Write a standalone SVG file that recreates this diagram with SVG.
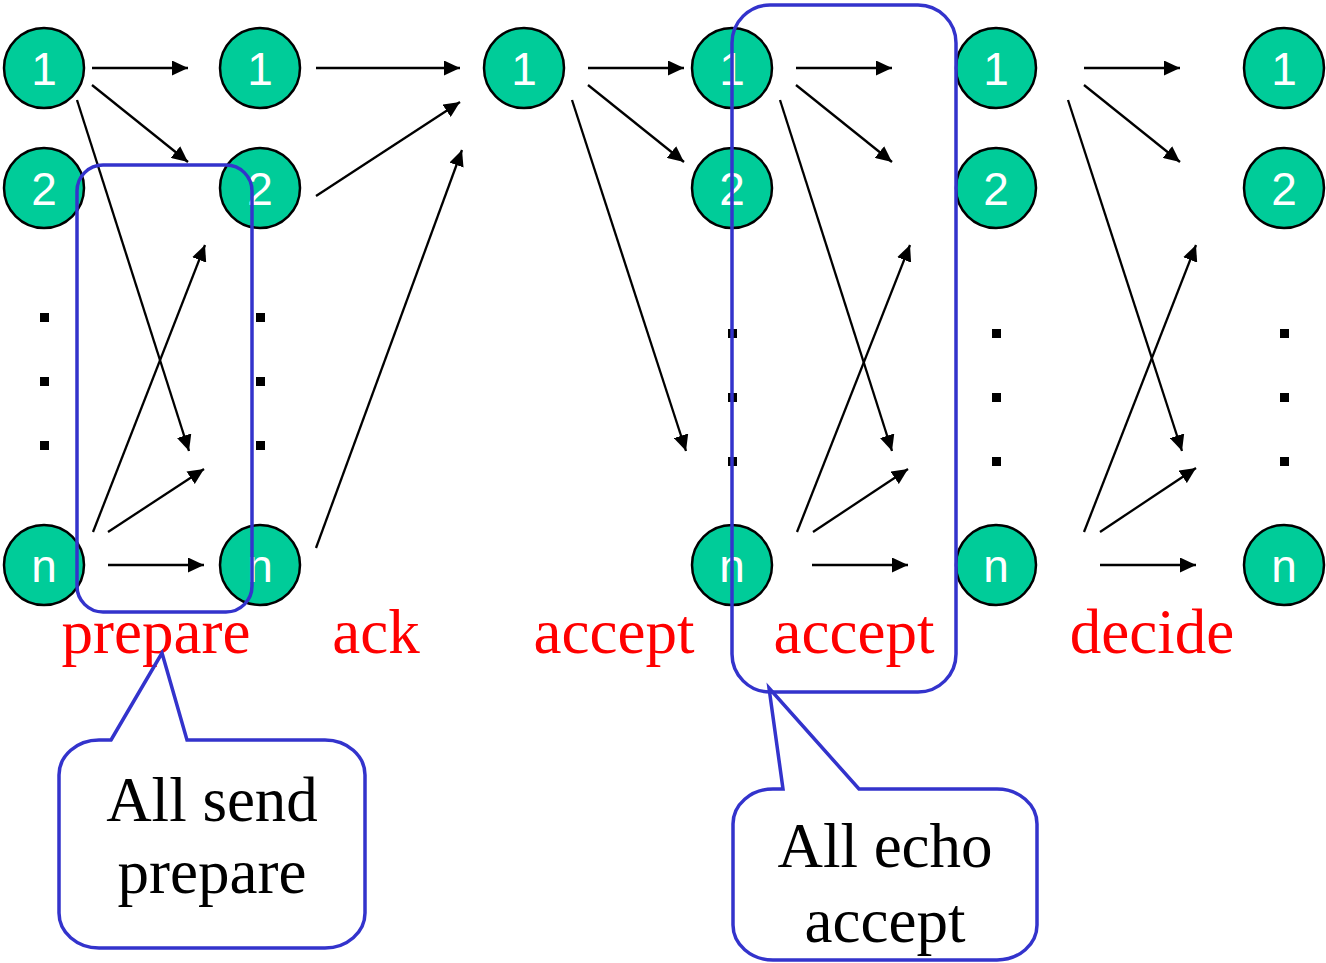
<svg xmlns="http://www.w3.org/2000/svg" width="1326" height="963" viewBox="0 0 1326 963">
  <style>
    .node circle { fill: #00CC99; stroke: #000; stroke-width: 2.5; }
    .node text { font-family: "Liberation Sans", Arial, sans-serif; font-size: 46px; fill: #fff; text-anchor: middle; }
    .dot { fill: #000; }
    .edge { stroke: #000; stroke-width: 2.3; fill: none; marker-end: url(#head); }
    .phase { font-family: "Liberation Serif", "Times New Roman", serif; font-size: 63px; fill: #FF0000; text-anchor: middle; }
    .group { fill: none; stroke: #3333CC; stroke-width: 3.5; }
    .note { font-family: "Liberation Serif", "Times New Roman", serif; font-size: 63px; fill: #000; text-anchor: middle; }
  </style>
  <defs>
    <marker id="head" viewBox="0 0 16 15" refX="16" refY="7.5" markerWidth="16" markerHeight="15" markerUnits="userSpaceOnUse" orient="auto">
      <path d="M0,0 L16,7.5 L0,15 Z" fill="#000"/>
    </marker>
  </defs>

  <rect width="1326" height="963" fill="#fff"/>

  <!-- column 1 -->
  <g id="c1-1" class="node"><circle cx="44" cy="68" r="40"/><text x="44" y="85">1</text></g>
  <g id="c1-2" class="node"><circle cx="44" cy="188" r="40"/><text x="44" y="205">2</text></g>
  <g id="c1-n" class="node"><circle cx="44" cy="565" r="40"/><text x="44" y="582">n</text></g>
  <!-- column 2 -->
  <g id="c2-1" class="node"><circle cx="260" cy="68" r="40"/><text x="260" y="85">1</text></g>
  <g id="c2-2" class="node"><circle cx="260" cy="188" r="40"/><text x="260" y="205">2</text></g>
  <g id="c2-n" class="node"><circle cx="260" cy="565" r="40"/><text x="260" y="582">n</text></g>
  <!-- column 3 (leader) -->
  <g id="c3-1" class="node"><circle cx="524" cy="68" r="40"/><text x="524" y="85">1</text></g>
  <!-- column 4 -->
  <g id="c4-1" class="node"><circle cx="732" cy="68" r="40"/><text x="732" y="85">1</text></g>
  <g id="c4-2" class="node"><circle cx="732" cy="188" r="40"/><text x="732" y="205">2</text></g>
  <g id="c4-n" class="node"><circle cx="732" cy="565" r="40"/><text x="732" y="582">n</text></g>
  <!-- column 5 -->
  <g id="c5-1" class="node"><circle cx="996" cy="68" r="40"/><text x="996" y="85">1</text></g>
  <g id="c5-2" class="node"><circle cx="996" cy="188" r="40"/><text x="996" y="205">2</text></g>
  <g id="c5-n" class="node"><circle cx="996" cy="565" r="40"/><text x="996" y="582">n</text></g>
  <!-- column 6 -->
  <g id="c6-1" class="node"><circle cx="1284" cy="68" r="40"/><text x="1284" y="85">1</text></g>
  <g id="c6-2" class="node"><circle cx="1284" cy="188" r="40"/><text x="1284" y="205">2</text></g>
  <g id="c6-n" class="node"><circle cx="1284" cy="565" r="40"/><text x="1284" y="582">n</text></g>

  <!-- ellipsis dots -->
  <g id="dots">
    <rect class="dot" x="40" y="313" width="9" height="9"/>
    <rect class="dot" x="40" y="377" width="9" height="9"/>
    <rect class="dot" x="40" y="441" width="9" height="9"/>
    <rect class="dot" x="256" y="313" width="9" height="9"/>
    <rect class="dot" x="256" y="377" width="9" height="9"/>
    <rect class="dot" x="256" y="441" width="9" height="9"/>
    <rect class="dot" x="728" y="329" width="9" height="9"/>
    <rect class="dot" x="728" y="393" width="9" height="9"/>
    <rect class="dot" x="728" y="457" width="9" height="9"/>
    <rect class="dot" x="992" y="329" width="9" height="9"/>
    <rect class="dot" x="992" y="393" width="9" height="9"/>
    <rect class="dot" x="992" y="457" width="9" height="9"/>
    <rect class="dot" x="1280" y="329" width="9" height="9"/>
    <rect class="dot" x="1280" y="393" width="9" height="9"/>
    <rect class="dot" x="1280" y="457" width="9" height="9"/>
  </g>

  <!-- message connectors -->
  <g id="connectors">
    <!-- prepare -->
    <line class="edge" x1="92" y1="68" x2="188" y2="68"/>
    <line class="edge" x1="92" y1="85" x2="188" y2="162"/>
    <line class="edge" x1="77" y1="100" x2="189" y2="451"/>
    <line class="edge" x1="93" y1="532" x2="205" y2="245"/>
    <line class="edge" x1="108" y1="532" x2="204" y2="469"/>
    <line class="edge" x1="108" y1="565" x2="204" y2="565"/>
    <!-- ack -->
    <line class="edge" x1="316" y1="68" x2="460" y2="68"/>
    <line class="edge" x1="316" y1="196" x2="460" y2="102"/>
    <line class="edge" x1="316" y1="548" x2="462" y2="150"/>
    <!-- accept -->
    <line class="edge" x1="588" y1="68" x2="684" y2="68"/>
    <line class="edge" x1="588" y1="85" x2="684" y2="162"/>
    <line class="edge" x1="572" y1="100" x2="686" y2="451"/>
    <!-- echo accept -->
    <line class="edge" x1="796" y1="68" x2="892" y2="68"/>
    <line class="edge" x1="796" y1="85" x2="892" y2="162"/>
    <line class="edge" x1="780" y1="100" x2="892" y2="451"/>
    <line class="edge" x1="797" y1="532" x2="910" y2="245"/>
    <line class="edge" x1="813" y1="532" x2="908" y2="469"/>
    <line class="edge" x1="812" y1="565" x2="908" y2="565"/>
    <!-- decide -->
    <line class="edge" x1="1084" y1="68" x2="1180" y2="68"/>
    <line class="edge" x1="1084" y1="85" x2="1180" y2="162"/>
    <line class="edge" x1="1068" y1="100" x2="1182" y2="451"/>
    <line class="edge" x1="1084" y1="532" x2="1196" y2="245"/>
    <line class="edge" x1="1100" y1="532" x2="1196" y2="468"/>
    <line class="edge" x1="1100" y1="565" x2="1196" y2="565"/>
  </g>

  <!-- phase labels -->
  <g id="phases">
    <text class="phase" x="156" y="653">prepare</text>
    <text class="phase" x="376" y="653">ack</text>
    <text class="phase" x="614" y="653">accept</text>
    <text class="phase" x="854" y="653">accept</text>
    <text class="phase" x="1152" y="653">decide</text>
  </g>

  <!-- highlighted rounds -->
  <g id="box-prepare"><rect class="group" x="77" y="165" width="175" height="447" rx="26" ry="26"/></g>
  <g id="box-echo"><rect class="group" x="732" y="5" width="224" height="687" rx="38" ry="38"/></g>

  <!-- callouts -->
  <g id="callout-prepare">
    <path class="group" d="M111,740 L162,653 L187,740 L325,740 A40,35 0 0 1 365,775 L365,913 A40,35 0 0 1 325,948 L99,948 A40,35 0 0 1 59,913 L59,775 A40,35 0 0 1 99,740 Z"/>
    <text class="note" x="212" y="821">All send</text>
    <text class="note" x="212" y="893">prepare</text>
  </g>
  <g id="callout-echo">
    <path class="group" d="M783,789 L769,688 L859,789 L997,789 A40,35 0 0 1 1037,824 L1037,925 A40,35 0 0 1 997,960 L773,960 A40,35 0 0 1 733,925 L733,824 A40,35 0 0 1 773,789 Z"/>
    <text class="note" x="885" y="867">All echo</text>
    <text class="note" x="885" y="942">accept</text>
  </g>
</svg>
